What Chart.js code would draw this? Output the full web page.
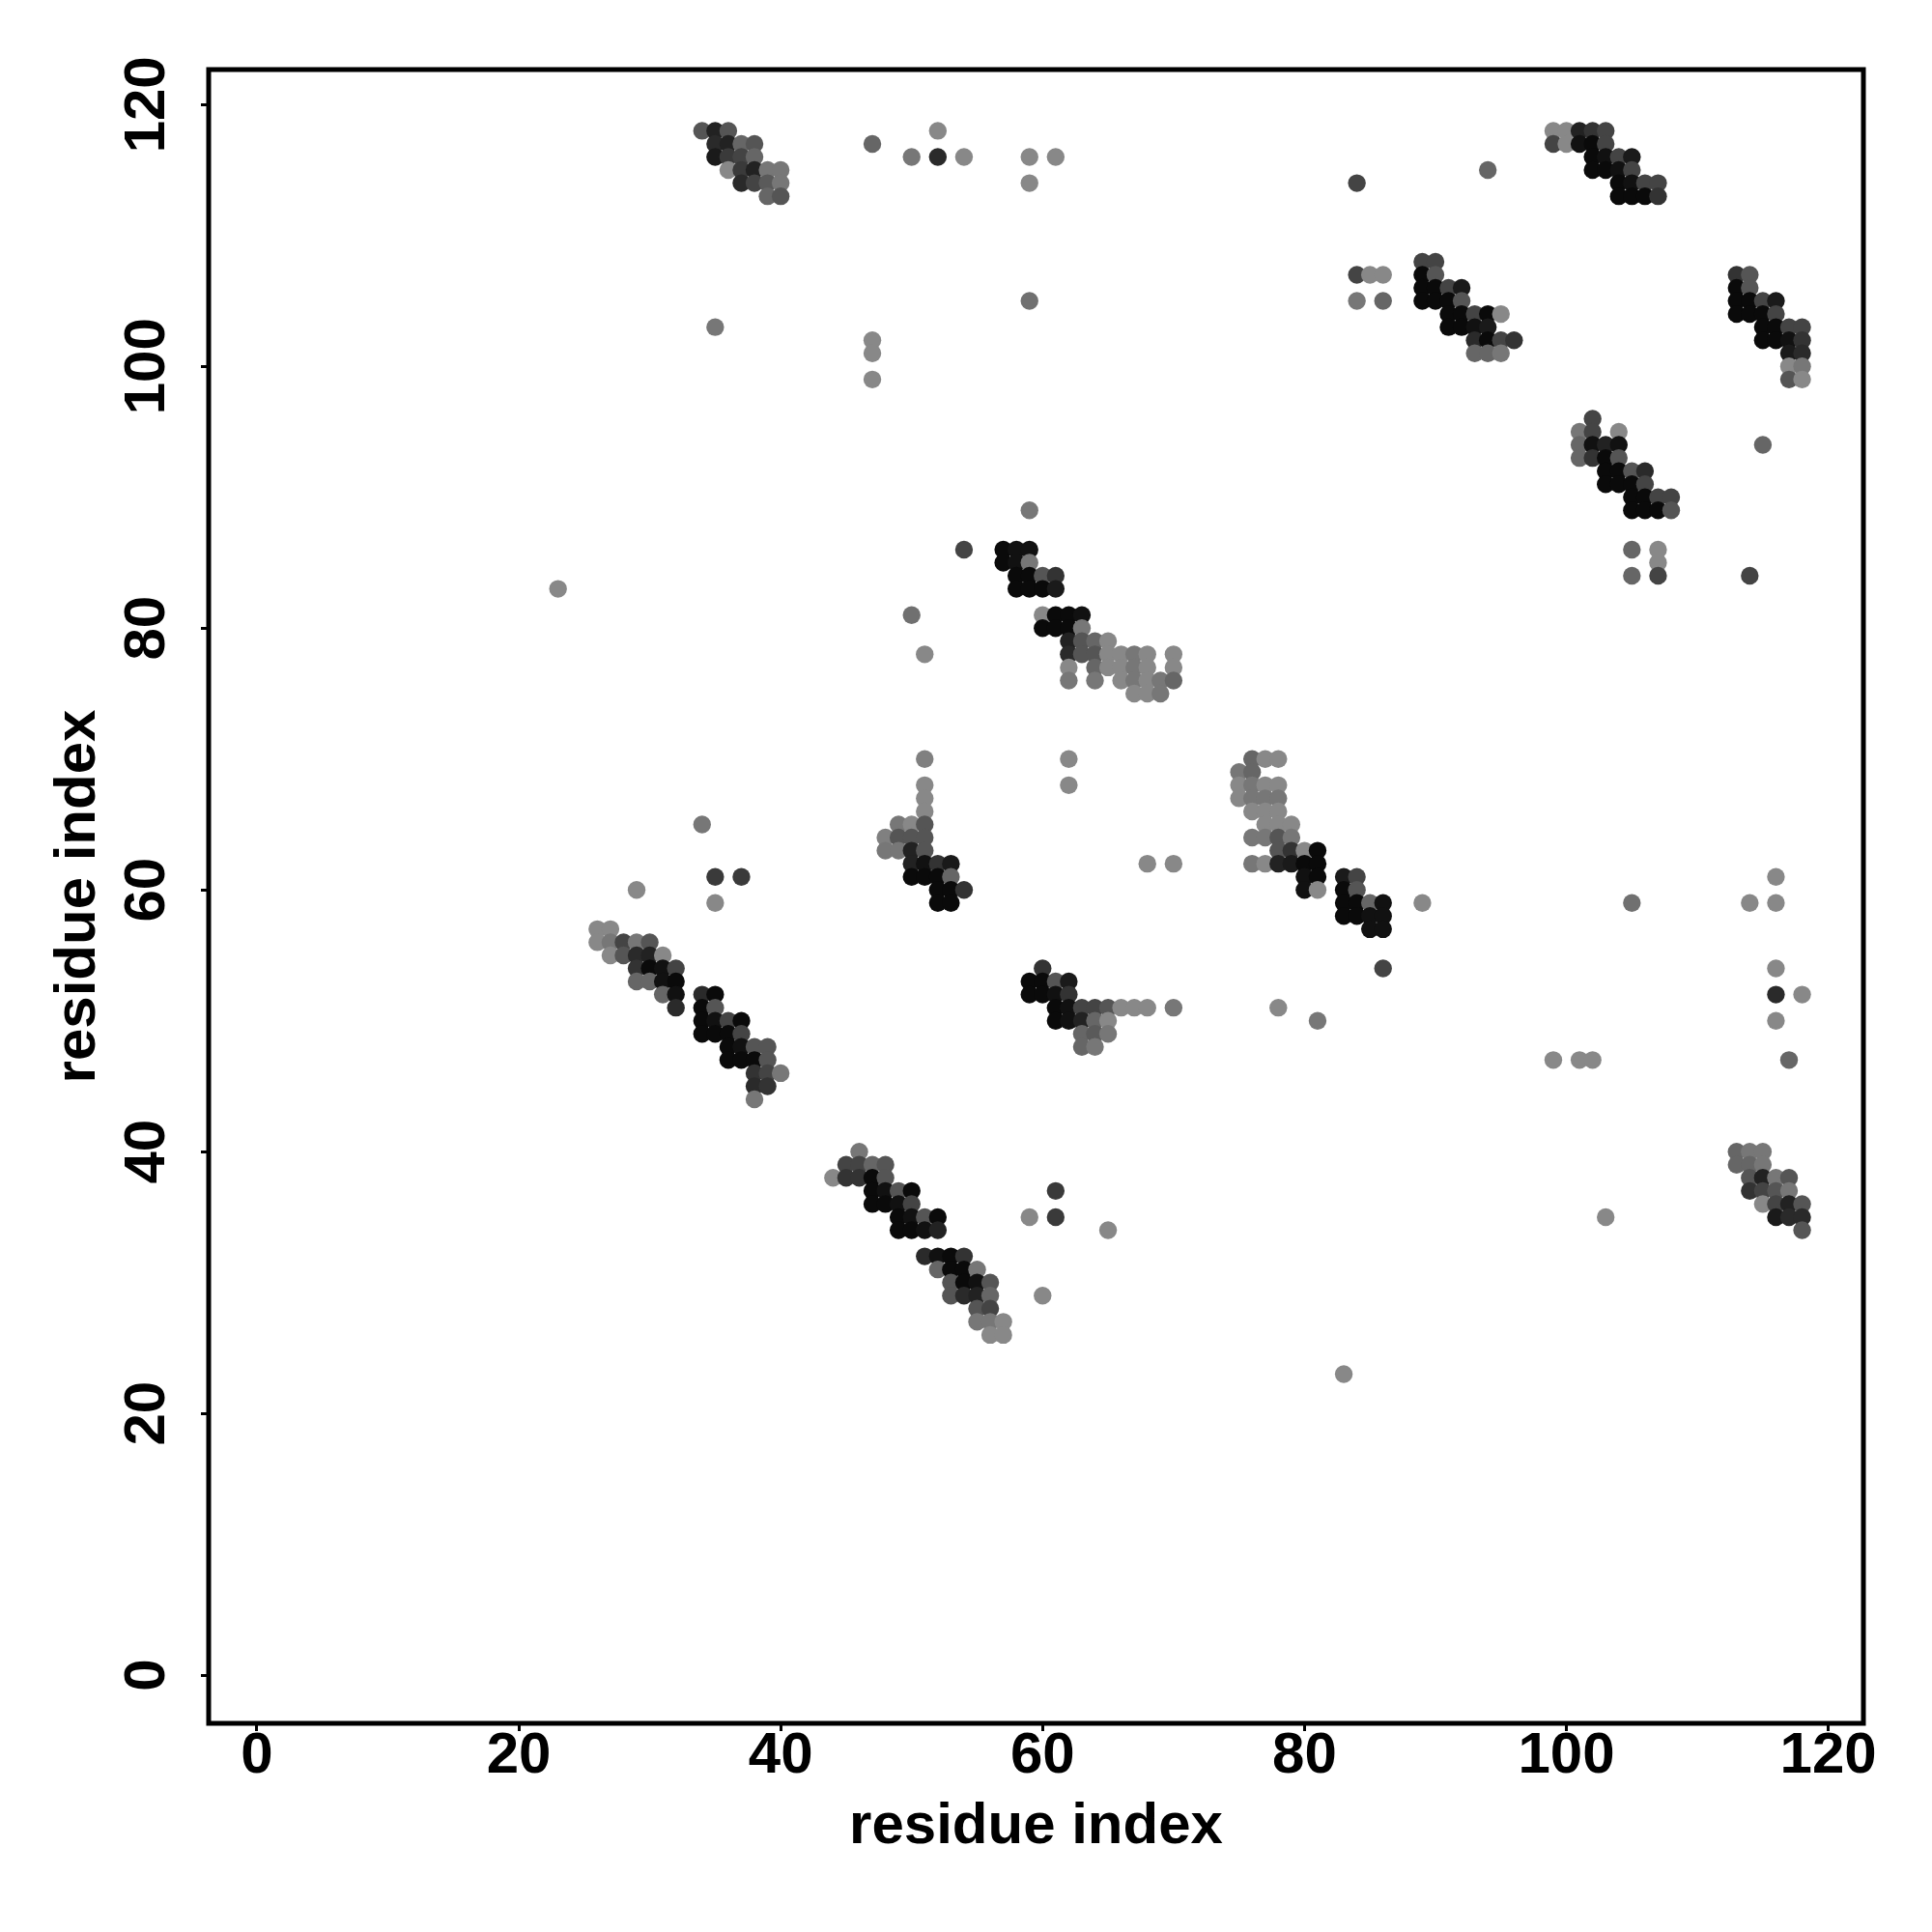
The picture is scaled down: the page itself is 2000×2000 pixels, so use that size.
<!DOCTYPE html>
<html>
<head>
<meta charset="utf-8">
<script src="https://cdn.jsdelivr.net/npm/chart.js@4.4.1/dist/chart.umd.min.js"></script>
<style>
html,body{margin:0;padding:0;background:#fff;}
#wrap{width:2000px;height:2000px;}
</style>
</head>
<body>
<div id="wrap"><canvas id="c" width="2000" height="2000"></canvas></div>
<script>
// Tick labels
const xTickValues = [0, 20, 40, 60, 80, 100, 120];
const yTickValues = [0, 20, 40, 60, 80, 100, 120];
const axisMin = -3.68, axisMax = 122.68;

// Contacts: [residue i, residue j, gray level 0-255]
const clusterA = [[34,118,85],[35,118,34],[36,118,85],[35,117,42],[36,117,34],[37,117,102],[38,117,85],
 [35,116,26],[36,116,58],[37,116,68],[38,116,102],[36,115,136],[37,115,58],[38,115,34],[39,115,119],[40,115,119],
 [37,114,42],[38,114,68],[39,114,90],[40,114,119],[39,113,102],[40,113,85]];
const topScatter = [[47,117,102],[52,118,136],[50,116,119],[52,116,42],[54,116,136],[59,116,136],[61,116,136],
 [59,114,136],[59,105,112],[35,103,119],[47,102,136],[47,101,136],[47,99,136],[84,114,68],[94,115,102]];
const clusterB = [[99,118,136],[100,118,136],[101,118,34],[102,118,51],[103,118,68],
 [99,117,68],[100,117,136],[101,117,17],[102,117,10],[103,117,68],
 [102,116,10],[103,116,17],[104,116,68],[105,116,26],
 [102,115,10],[103,115,10],[104,115,17],[105,115,68],
 [104,114,10],[105,114,17],[106,114,68],[107,114,68],
 [104,113,10],[105,113,10],[106,113,10],[107,113,51]];
const clusterC = [[84,107,68],[85,107,136],[86,107,136],[84,105,119],[86,105,102],
 [89,108,68],[90,108,68],[89,107,10],[90,107,85],
 [89,106,10],[90,106,10],[91,106,68],[92,106,26],
 [89,105,10],[90,105,10],[91,105,10],[92,105,85],
 [91,104,10],[92,104,10],[93,104,68],[94,104,10],[95,104,136],
 [91,103,10],[92,103,10],[93,103,17],[94,103,26],
 [93,102,42],[94,102,10],[95,102,68],[96,102,51],
 [93,101,102],[94,101,102],[95,101,119]];
const clusterD = [[113,107,51],[114,107,85],[113,106,10],[114,106,85],
 [113,105,10],[114,105,10],[115,105,68],[116,105,26],
 [113,104,10],[114,104,10],[115,104,10],[116,104,68],
 [115,103,10],[116,103,10],[117,103,68],[118,103,68],
 [115,102,10],[116,102,10],[117,102,17],[118,102,51],
 [117,101,26],[118,101,42],[117,100,136],[118,100,119],[117,99,85],[118,99,136]];
const clusterE = [[102,96,68],[101,95,119],[102,95,68],[104,95,136],
 [101,94,102],[102,94,17],[103,94,34],[104,94,17],
 [101,93,102],[102,93,51],[103,93,10],[104,93,85],
 [103,92,10],[104,92,10],[105,92,85],[106,92,42],
 [103,91,10],[104,91,10],[105,91,10],[106,91,68],
 [105,90,10],[106,90,10],[107,90,68],[108,90,68],
 [105,89,10],[106,89,10],[107,89,10],[108,89,85],
 [115,94,102],[105,86,102],[107,86,136],[107,85,136],[105,84,102],[107,84,68],[114,84,68]];
const clusterF = [[23,83,136],[59,89,119],[54,86,68],[50,81,112],[51,78,136],
 [57,86,10],[58,86,17],[59,86,17],[57,85,10],[58,85,17],[59,85,119],
 [58,84,10],[59,84,10],[60,84,85],[61,84,51],
 [58,83,10],[59,83,10],[60,83,10],[61,83,26],
 [60,81,136],[61,81,10],[62,81,10],[63,81,17],
 [60,80,10],[61,80,10],[62,80,10],[63,80,119],
 [62,79,34],[63,79,85],[64,79,102],[65,79,136],
 [62,78,42],[63,78,85],[64,78,85],[65,78,136],[66,78,136],[67,78,119],[68,78,136],[70,78,136],
 [62,77,136],[64,77,102],[65,77,136],[66,77,136],[67,77,119],[68,77,136],[70,77,136],
 [62,76,119],[64,76,119],[66,76,136],[67,76,119],[68,76,136],[69,76,119],[70,76,102],
 [67,75,136],[68,75,136],[69,75,119]];
const clusterG = [[51,70,128],[51,68,136],[51,67,136],[51,66,136],
 [49,65,119],[50,65,136],[51,65,85],
 [48,64,128],[49,64,85],[50,64,85],[51,64,85],
 [48,63,119],[49,63,119],[50,63,34],[51,63,85],
 [50,62,34],[51,62,17],[52,62,51],[53,62,26],
 [50,61,10],[51,61,10],[52,61,10],[53,61,102],
 [52,60,10],[53,60,10],[54,60,51],[52,59,10],[53,59,10],
 [34,65,119],[35,61,58],[37,61,58],[35,59,136],[29,60,136]];
const clusterH = [[62,70,136],[62,68,136],[68,62,136],[70,62,136],
 [76,70,102],[77,70,136],[78,70,136],[75,69,119],[76,69,102],
 [75,68,136],[76,68,119],[77,68,136],[78,68,136],
 [75,67,136],[76,67,119],[77,67,119],[78,67,119],
 [76,66,136],[77,66,136],[78,66,136],[77,65,136],[78,65,136],[79,65,136],
 [76,64,119],[77,64,119],[78,64,85],[79,64,119],
 [78,63,85],[79,63,51],[80,63,136],[81,63,10],
 [76,62,119],[77,62,136],[78,62,34],[79,62,26],[80,62,10],[81,62,10],
 [80,61,17],[81,61,10],[83,61,26],[84,61,68],
 [80,60,17],[81,60,136],[83,60,10],[84,60,85],
 [83,59,10],[84,59,10],[85,59,102],[86,59,17],[89,59,136],
 [83,58,10],[84,58,10],[85,58,17],[86,58,17],[85,57,17],[86,57,17],[86,54,68]];
const clusterI = [[26,57,136],[27,57,136],
 [26,56,136],[27,56,119],[28,56,68],[29,56,119],[30,56,85],
 [27,55,136],[28,55,85],[29,55,42],[30,55,34],[31,55,136],
 [29,54,51],[30,54,10],[31,54,17],[32,54,68],
 [29,53,102],[30,53,102],[31,53,17],[32,53,10],
 [31,52,102],[32,52,17],[34,52,42],[35,52,10],
 [32,51,42],[34,51,10],[35,51,85],
 [34,50,10],[35,50,17],[36,50,68],[37,50,10],
 [34,49,10],[35,49,10],[36,49,10],[37,49,68],
 [36,48,10],[37,48,17],[38,48,85],[39,48,85],
 [36,47,10],[37,47,10],[38,47,10],[39,47,85],
 [38,46,51],[39,46,68],[40,46,119],[38,45,42],[39,45,51],[38,44,119]];
const clusterJ = [[60,54,51],[59,53,10],[60,53,10],[61,53,85],[62,53,26],
 [59,52,10],[60,52,10],[61,52,17],[62,52,51],
 [61,51,10],[62,51,17],[63,51,68],[64,51,68],[65,51,85],[66,51,136],[67,51,136],[68,51,136],[70,51,119],
 [61,50,10],[62,50,17],[63,50,34],[64,50,102],[65,50,136],
 [63,49,102],[64,49,90],[65,49,119],[63,48,102],[64,48,119],[78,51,136],[81,50,119]];
const rightScatter = [[116,61,136],[114,59,136],[116,59,136],[105,59,112],[116,54,136],[116,52,42],
 [118,52,136],[116,50,136],[117,47,102],[99,47,136],[101,47,136],[102,47,136],[103,35,136]];
const clusterK = [[113,40,102],[114,40,119],[115,40,119],[113,39,102],[114,39,102],[115,39,119],
 [114,38,85],[115,38,34],[116,38,119],[117,38,85],
 [114,37,51],[115,37,68],[116,37,85],[117,37,119],
 [115,36,136],[116,36,68],[117,36,34],[118,36,85],
 [116,35,26],[117,35,42],[118,35,42],[118,34,85]];
const clusterL = [[46,40,119],[45,39,68],[46,39,68],[47,39,102],[48,39,85],
 [44,38,136],[45,38,51],[46,38,51],[47,38,10],[48,38,85],
 [47,37,10],[48,37,17],[49,37,85],[50,37,10],
 [47,36,10],[48,36,10],[49,36,17],[50,36,68],
 [49,35,10],[50,35,17],[51,35,85],[52,35,10],
 [49,34,10],[50,34,10],[51,34,17],[52,34,34],
 [51,32,42],[52,32,17],[53,32,10],[54,32,51],
 [52,31,102],[53,31,10],[54,31,10],[55,31,119],
 [53,30,85],[54,30,10],[55,30,17],[56,30,85],
 [53,29,85],[54,29,42],[55,29,34],[56,29,102],
 [55,28,85],[56,28,68],[55,27,119],[56,27,119],[57,27,136],[56,26,136],[57,26,136],
 [61,37,58],[61,35,58],[59,35,136],[65,34,136],[60,29,136],[83,23,136]];

const allContacts = [].concat(clusterA, topScatter, clusterB, clusterC, clusterD, clusterE, clusterF,
  clusterG, clusterH, clusterI, clusterJ, rightScatter, clusterK, clusterL);

const FONT = "'Liberation Sans', Arial, Helvetica, sans-serif";

const framePlugin = {
  id: 'frame',
  afterDatasetsDraw(chart) {
    const a = chart.chartArea, ctx = chart.ctx;
    ctx.save();
    ctx.strokeStyle = '#000';
    ctx.lineWidth = 5;
    ctx.strokeRect(a.left, a.top, a.right - a.left, a.bottom - a.top);
    ctx.restore();
  },
  afterDraw(chart) {
    const s = chart.scales.y, ctx = chart.ctx;
    ctx.save();
    ctx.fillStyle = '#000';
    ctx.font = 'bold 60px ' + FONT;
    ctx.textAlign = 'center';
    ctx.textBaseline = 'alphabetic';
    s.ticks.forEach(t => {
      const py = s.getPixelForValue(t.value);
      ctx.save();
      ctx.translate(170, py);
      ctx.rotate(-Math.PI / 2);
      ctx.fillText(String(t.value), 0, 0);
      ctx.restore();
    });
    ctx.restore();
  }
};

new Chart(document.getElementById('c'), {
  type: 'scatter',
  data: {
    datasets: [{
      data: allContacts.map(p => ({x: p[0], y: p[1]})),
      pointBackgroundColor: allContacts.map(p => `rgb(${p[2]},${p[2]},${p[2]})`),
      backgroundColor: allContacts.map(p => `rgb(${p[2]},${p[2]},${p[2]})`),
      pointRadius: 9.2,
      pointHoverRadius: 9.2,
      pointBorderWidth: 0,
      borderWidth: 0,
      showLine: false
    }]
  },
  options: {
    responsive: false,
    animation: false,
    devicePixelRatio: 1,
    layout: {padding: {top: 72, right: 71, left: 0, bottom: 0}},
    plugins: {legend: {display: false}, tooltip: {enabled: false}},
    scales: {
      x: {
        type: 'linear', position: 'bottom', min: axisMin, max: axisMax,
        afterBuildTicks: s => { s.ticks = xTickValues.map(v => ({value: v})); },
        afterFit: s => { s.height = 216; },
        grid: {display: true, drawOnChartArea: false, drawTicks: true, tickLength: 8, tickWidth: 3, tickColor: '#000'},
        border: {display: false},
        ticks: {font: {family: FONT, size: 60, weight: 'bold', lineHeight: 1}, color: '#000', padding: -4, maxRotation: 0, minRotation: 0, autoSkip: false},
        title: {display: true, text: 'residue index', color: '#000', font: {family: FONT, size: 60, weight: 'bold', lineHeight: 1.2}, padding: {top: 0, bottom: 73}}
      },
      y: {
        type: 'linear', position: 'left', min: axisMin, max: axisMax,
        afterBuildTicks: s => { s.ticks = yTickValues.map(v => ({value: v})); },
        afterFit: s => { s.width = 216; },
        grid: {display: true, drawOnChartArea: false, drawTicks: true, tickLength: 8, tickWidth: 3, tickColor: '#000'},
        border: {display: false},
        ticks: {display: false},
        title: {display: true, text: 'residue index', color: '#000', font: {family: FONT, size: 60, weight: 'bold', lineHeight: 1.2}, padding: {top: 45, bottom: 0}}
      }
    }
  },
  plugins: [framePlugin]
});
</script>
</body>
</html>
